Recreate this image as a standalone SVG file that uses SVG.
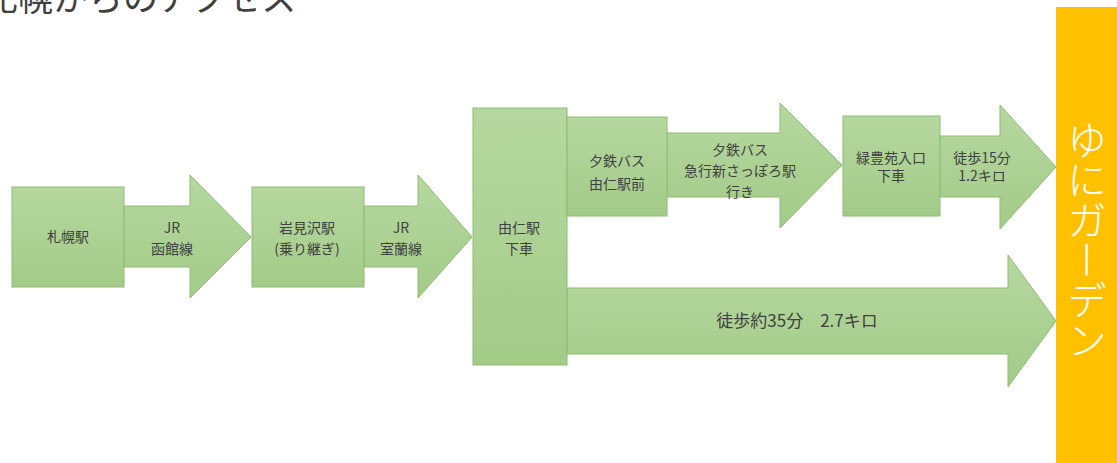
<svg xmlns="http://www.w3.org/2000/svg" width="1117" height="463" viewBox="0 0 1117 463">
<defs>
<linearGradient id="g" x1="0" y1="0" x2="0" y2="1">
<stop offset="0" stop-color="#b6d8a0"/>
<stop offset="1" stop-color="#a3cb88"/>
</linearGradient>
<style>
.s{fill:url(#g);stroke:#8dbd6e;stroke-width:1}
.t{font-family:"Noto Sans CJK JP","Noto Sans",sans-serif;font-size:14px;fill:#404040;text-anchor:middle}
.title{font-family:"Noto Sans CJK JP","Noto Sans",sans-serif;font-size:35px;fill:#404040}
.v{font-family:"Noto Sans CJK JP",sans-serif;font-size:40px;font-weight:300;fill:#ffffff;writing-mode:vertical-rl}
</style>
</defs>
<rect width="1117" height="463" fill="#ffffff"/>
<text class="title" x="-17" y="11">札幌からのアクセス</text>
<g id="connectors">
<polygon class="s" points="124,206 190,206 190,175 251,237 190,298 190,267 124,267"/>
<polygon class="s" points="364,206 418,206 418,175 472,237 418,298 418,267 364,267"/>
<polygon class="s" points="667,133 780,133 780,103 842,165 780,228 780,197 667,197"/>
<polygon class="s" points="940,136 1000,136 1000,105 1056,167 1000,229 1000,197 940,197"/>
<polygon class="s" points="567,288 1008,288 1008,255 1056,321 1008,387 1008,354 567,354"/>
<text class="t" x="172" y="233">JR</text>
<text class="t" x="172" y="254">函館線</text>
<text class="t" x="401" y="233">JR</text>
<text class="t" x="401" y="254">室蘭線</text>
<text class="t" x="740" y="155">夕鉄バス</text>
<text class="t" x="740" y="176">急行新さっぽろ駅</text>
<text class="t" x="740" y="197">行き</text>
<text class="t" x="982" y="163">徒歩15分</text>
<text class="t" x="982" y="181">1.2キロ</text>
<text class="t" x="797" y="327" style="font-size:17px">徒歩約35分　2.7キロ</text>
</g>
<g id="sapporo">
<rect class="s" x="12" y="187" width="112" height="100"/>
<text class="t" x="68" y="242">札幌駅</text>
</g>
<g id="iwamizawa">
<rect class="s" x="252" y="187" width="112" height="100"/>
<text class="t" x="307" y="233">岩見沢駅</text>
<text class="t" x="307" y="254">(乗り継ぎ)</text>
</g>
<g id="yuni">
<rect class="s" x="473" y="108" width="94" height="257"/>
<text class="t" x="519" y="233">由仁駅</text>
<text class="t" x="519" y="254">下車</text>
</g>
<g id="yutetsu">
<rect class="s" x="567" y="117" width="100" height="99"/>
<text class="t" x="617" y="166">夕鉄バス</text>
<text class="t" x="617" y="189">由仁駅前</text>
</g>
<g id="ryokuhoen">
<rect class="s" x="843" y="116" width="97" height="100"/>
<text class="t" x="891" y="163">緑豊苑入口</text>
<text class="t" x="891" y="181">下車</text>
</g>
<g id="garden">
<rect x="1056" y="7" width="61" height="456" fill="#ffc000"/>
<text class="v" x="1087" y="120">ゆにガーデン</text>
</g>
</svg>
